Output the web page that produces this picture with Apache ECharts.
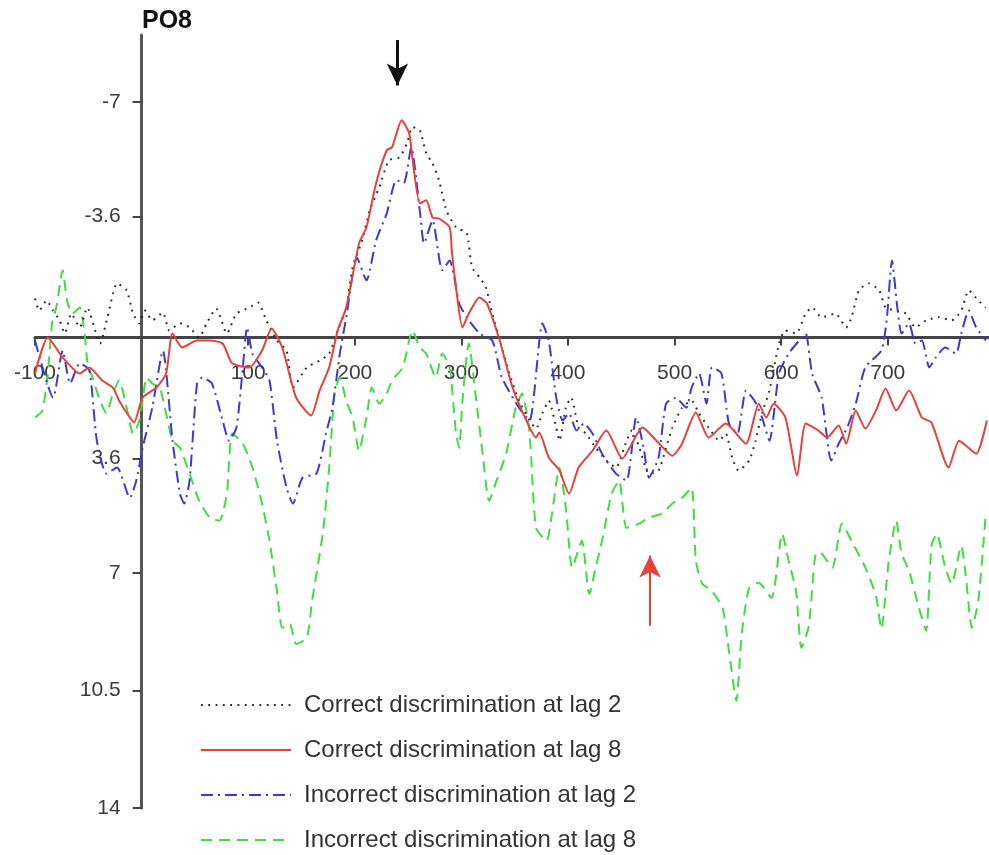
<!DOCTYPE html>
<html>
<head>
<meta charset="utf-8">
<script src="https://cdn.jsdelivr.net/npm/echarts/dist/echarts.min.js"></script>
<style>html,body{margin:0;padding:0;background:#fff}#chart{width:989px;height:855px}</style>
</head>
<body>
<div id="chart"></div>
<script>
// ---- data (time in ms, amplitude in µV; axis inverted, negative up) ----
const correctLag2T = [-100,-96,-89,-83,-77,-72,-66,-58,-51,-39,-32,-23,-14,-8,-2,3,10,20,26,36,45,54,61,70,80,89,101,109,117,127,136,142,155,167,176,183,192,198,207,214,223,232,242,249,254,261,267,273,279,286,295,305,310,317,323,329,336,345,354,364,370,376,382,389,392,398,403,410,417,426,436,445,455,460,467,476,485,492,498,507,516,523,532,542,548,554,560,570,576,582,589,598,604,614,623,629,638,651,661,666,673,682,692,698,708,717,726,736,748,760,769,776,785,792];
const correctLag2V = [-1.16,-0.80,-1.10,-0.80,-0.51,-0.12,-0.71,-0.30,-0.89,0.18,-0.60,-1.61,-1.40,-0.71,-0.42,-0.80,-0.51,-0.74,-0.21,-0.42,-0.30,0,-0.42,-0.86,-0.12,-0.71,-0.89,-1.04,-0.51,0.09,0.39,1.49,0.89,0.69,0.48,-0.12,-0.89,-2.09,-2.89,-3.78,-4.47,-5.27,-5.36,-5.78,-6.26,-6.17,-5.48,-5.18,-4.68,-3.78,-3.28,-3.10,-2.09,-1.79,-1.49,-0.71,0.09,1.07,1.88,2.47,2.71,2.26,1.88,2.68,3.07,2.09,1.79,2.68,2.86,3.28,3.66,3.87,3.07,2.77,3.28,4.05,3.96,3.28,2.68,2.09,1.88,2.26,2.68,3.07,2.86,3.57,3.96,3.66,3.07,2.26,1.58,0.18,-0.21,-0.12,-0.71,-0.89,-0.60,-0.71,-0.30,-0.60,-1.40,-1.61,-1.40,-0.89,-0.80,-0.71,-0.30,-0.51,-0.60,-0.51,-0.80,-1.40,-1.10,-0.89];

const correctLag8T = [-100,-88,-74,-58,-49,-37,-27,-21,-11,-7,1,14,23,29,38,52,64,76,85,101,113,122,132,145,159,167,176,184,192,204,211,220,230,235,244,251,254,261,267,273,279,289,291,295,301,307,317,324,336,348,361,370,373,382,392,401,410,423,436,451,470,483,498,507,520,532,548,567,579,586,593,604,615,623,635,643,654,661,670,679,689,698,708,720,732,741,757,767,783,793];
const correctLag8V = [1.07,0,0.60,1.07,0.89,1.28,1.49,1.88,2.38,2.53,1.79,1.49,1.07,-0.12,0.30,0.09,0.09,0.18,0.77,0.89,0.39,-0.27,0.30,1.79,2.32,1.58,0.89,-0.21,-0.89,-2.80,-3.28,-4.59,-5.57,-5.66,-6.46,-6.08,-5.36,-3.99,-4.08,-3.57,-3.54,-3.28,-2.59,-1.49,-0.30,-0.71,-1.19,-1.01,0.09,1.49,2.47,2.98,2.83,3.57,3.96,4.65,3.87,3.37,2.77,3.60,2.68,3.07,3.52,3.16,2.23,2.98,2.56,3.16,1.97,2.38,1.97,2.38,4.11,2.56,2.77,2.98,2.62,3.16,2.17,2.71,2.17,1.52,2.17,1.58,2.38,2.53,3.87,3.07,3.46,2.47];

const incorrectLag2T = [-100,-83,-74,-67,-58,-49,-42,-33,-23,-11,-5,1,10,20,29,36,40,45,52,57,66,76,82,89,95,99,104,113,120,127,136,142,151,164,173,179,186,192,202,211,220,230,239,246,253,261,265,273,282,289,298,305,317,329,338,354,364,376,382,389,395,401,408,415,423,432,445,455,464,471,476,485,492,501,511,516,523,530,535,544,551,559,567,575,582,589,598,607,617,623,629,638,647,654,662,670,679,694,699,704,709,713,720,726,732,739,745,754,764,769,776,783,792];
const incorrectLag2V = [0.09,1.79,0.39,1.37,0.77,0.98,3.07,4.05,3.87,4.77,4.26,3.28,2.09,0.39,3.07,4.65,4.94,4.26,1.37,1.19,1.37,2.47,3.07,2.68,0.89,-0.30,0.48,0.89,1.28,3.07,4.47,4.94,4.17,4.05,2.86,2.09,0.48,-0.60,-2.38,-1.70,-2.89,-3.69,-4.68,-4.59,-5.66,-3.78,-2.80,-3.49,-2.00,-2.29,-1.01,-0.60,-0.12,0.09,1.19,2.09,2.47,-0.42,0.09,1.79,2.47,2.26,2.77,2.56,2.86,3.46,4.05,4.26,2.38,3.28,4.17,3.57,1.97,1.79,2.09,1.49,1.07,1.97,0.89,1.07,2.56,2.86,1.58,1.88,2.38,3.07,1.07,0.48,0.09,-0.12,1.07,1.79,3.66,3.16,2.68,1.97,0.89,0.39,-0.51,-2.29,-0.89,-0.12,-0.42,0.18,0.09,0.89,0.60,0.30,0.48,-0.12,-0.80,-0.30,0.09];

const incorrectLag8T = [-100,-93,-88,-84,-80,-74,-70,-65,-58,-53,-51,-46,-39,-33,-27,-21,-14,-8,-2,5,10,17,23,29,36,45,54,64,73,80,85,95,104,113,120,127,132,139,145,155,160,170,176,181,186,192,198,204,211,216,223,230,235,245,251,254,261,267,276,282,289,295,298,301,307,314,320,326,333,342,351,357,364,370,380,385,392,398,404,413,420,426,432,441,448,455,467,476,488,498,507,516,520,526,535,545,551,558,563,570,579,591,601,607,614,619,626,633,638,648,657,666,679,689,694,701,708,713,720,729,736,741,746,754,760,769,773,779,785,792];
const incorrectLag8V = [2.38,2.17,1.07,-0.42,-0.89,-2.00,-1.10,-0.71,-0.89,0,0.69,1.19,1.88,2.26,1.67,1.28,2.09,2.86,2.47,1.19,1.37,1.49,2.26,3.07,3.28,4.05,4.86,5.36,5.45,4.65,2.86,3.16,3.87,4.94,6.05,7.54,8.64,8.52,9.12,8.94,7.83,5.84,3.87,1.67,1.19,1.88,2.38,3.37,2.38,1.49,1.97,1.67,1.28,0.89,0.09,-0.21,0.30,0.48,1.19,0.48,0.89,2.86,3.28,1.88,0.18,1.88,3.46,4.86,4.26,3.46,2.09,1.67,2.86,5.66,6.05,5.24,3.87,5.06,6.85,6.05,7.63,6.85,6.05,4.65,4.26,5.66,5.54,5.36,5.24,4.94,4.77,4.47,6.64,7.33,7.54,8.04,9.32,10.81,8.82,7.45,7.30,7.75,5.84,6.64,7.54,9.23,8.58,6.40,6.43,6.85,5.54,6.05,6.85,7.69,8.67,6.64,5.45,6.43,6.94,8.01,8.73,6.20,5.84,6.85,7.33,6.20,7.03,8.64,7.83,5.24];

const seriesNames = ['Correct discrimination at lag 2','Correct discrimination at lag 8','Incorrect discrimination at lag 2','Incorrect discrimination at lag 8'];
const xTickValues = [-100,100,200,300,400,500,600,700];
const yTickValues = [-7,-3.6,3.6,7,10.5,14];
const channelName = 'PO8';
// annotation arrows: [time, tail amplitude, head amplitude]
const blackArrow = [240,-8.85,-7.5];
const redArrow = [477,8.58,6.49];

function pairs(t, v){ const n=Math.min(t.length,v.length); const out=[]; for(let i=0;i<n;i++) out.push([t[i],v[i]]); return out; }

const FONT = '"Liberation Sans", Arial, sans-serif';
const W = 989, H = 855;
const G = {left:35, right:0, top:35, bottom:47};
const X_MIN = -100, X_MAX = 795, Y_MIN = -9, Y_MAX = 14;
const plotW = W - G.left - G.right, plotH = H - G.top - G.bottom;
// axes cross at (0,0): shift them inward from the grid edges
const yAxisOffset = -((0 - X_MIN) / (X_MAX - X_MIN) * plotW);
const xAxisOffset = -((Y_MAX - 0) / (Y_MAX - Y_MIN) * plotH);

const chart = echarts.init(document.getElementById('chart'), null, {renderer:'canvas'});

const styles = [
  {color:'#262626', width:2, type:[1.8,5.5]},
  {color:'#e8403a', width:2, type:'solid'},
  {color:'#3b3bd2', width:2, type:[12,5,2,5]},
  {color:'#3fde3f', width:2, type:[11,7]}
];
const dataSets = [
  pairs(correctLag2T, correctLag2V),
  pairs(correctLag8T, correctLag8V),
  pairs(incorrectLag2T, incorrectLag2V),
  pairs(incorrectLag8T, incorrectLag8V)
];

const series = seriesNames.map((name,i)=>({
  name, type:'line', data:dataSets[i], showSymbol:false, symbol:'none', smooth:0.2,
  color: styles[i].color,
  lineStyle:{color:styles[i].color, width:styles[i].width, type:styles[i].type},
  z: [3,4,3,2][i]
}));

series.push({
  name:'arrows', type:'line', data:[], symbol:'none', silent:true,
  markLine:{
    silent:true, animation:false, symbol:['none','arrow'], symbolSize:[16,22],
    label:{show:false},
    data:[
      [{coord:[blackArrow[0],blackArrow[1]], lineStyle:{color:'#111', width:3, type:'solid'}, itemStyle:{color:'#111'}}, {coord:[blackArrow[0],blackArrow[2]]}],
      [{coord:[redArrow[0],redArrow[1]], lineStyle:{color:'#e8403a', width:2, type:'solid'}, itemStyle:{color:'#e8403a'}}, {coord:[redArrow[0],redArrow[2]]}]
    ]
  }
});

chart.setOption({
  animation:false,
  backgroundColor:'#fff',
  title:{text:channelName, left:142, top:9, padding:0, textStyle:{fontFamily:FONT, fontSize:25, fontWeight:'bold', color:'#111'}},
  grid:{left:G.left, right:G.right, top:G.top, bottom:G.bottom, containLabel:false, outerBoundsMode:'none'},
  legend:{
    data:seriesNames, orient:'vertical', left:200, top:692, padding:0, itemWidth:90, itemHeight:14, itemGap:19,
    textStyle:{fontFamily:FONT, fontSize:24, lineHeight:26, color:'#333', padding:[0,0,0,8]},
    itemStyle:{opacity:0},
    selectedMode:false
  },
  xAxis:{
    type:'value', min:X_MIN, max:X_MAX, position:'bottom', offset:xAxisOffset,
    axisLine:{onZero:false, lineStyle:{color:'#444', width:3}},
    axisTick:{show:true, customValues:xTickValues, length:8, lineStyle:{color:'#444', width:2}},
    axisLabel:{customValues:xTickValues, margin:25, fontFamily:FONT, fontSize:21, color:'#3a3a3a'},
    splitLine:{show:false}
  },
  yAxis:{
    type:'value', inverse:true, min:Y_MIN, max:Y_MAX, position:'left', offset:yAxisOffset,
    axisLine:{show:true, onZero:false, lineStyle:{color:'#555', width:3}},
    axisTick:{show:true, customValues:yTickValues, length:9, lineStyle:{color:'#444', width:2}},
    axisLabel:{customValues:yTickValues, margin:21, fontFamily:FONT, fontSize:21, color:'#3a3a3a',
      formatter:(v)=>String(v)},
    splitLine:{show:false}
  },
  series
});
</script>
</body>
</html>
